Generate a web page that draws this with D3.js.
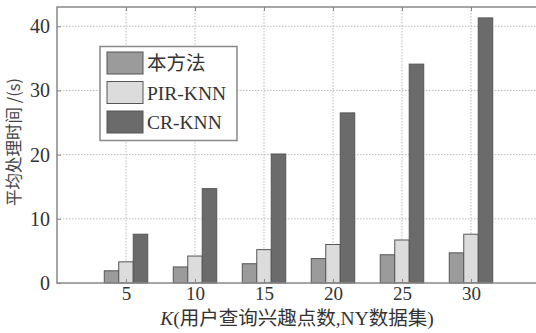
<!DOCTYPE html>
<html><head><meta charset="utf-8">
<script src="https://cdn.jsdelivr.net/npm/d3@7"></script>
<style>body{margin:0;background:#fff}svg{display:block}</style>
</head><body>
<script>
const categories = [5, 10, 15, 20, 25, 30];
const seriesNames = ["本方法", "PIR-KNN", "CR-KNN"];
const ours = [1.9, 2.5, 3.0, 3.8, 4.4, 4.7];
const pirKnn = [3.3, 4.2, 5.2, 6.0, 6.7, 7.6];
const crKnn = [7.6, 14.7, 20.1, 26.5, 34.1, 41.3];
const yTicks = [0, 10, 20, 30, 40];
const yLabel = "平均处理时间 /(s)";
const xLabelItalic = "K";
const xLabelRest = "(用户查询兴趣点数,NY数据集)";

const series = [ours, pirKnn, crKnn];
const colors = ["#9b9b9b", "#dcdcdc", "#6b6b6b"];

const W = 536, H = 333;
const m = {left: 57, top: 7, bottom: 283, right: 540};
const svg = d3.select("body").append("svg").attr("width", W).attr("height", H);

const x = d3.scaleLinear().domain([0, 35]).range([m.left, m.right]);
const y = d3.scaleLinear().domain([0, 43]).range([m.bottom, m.top]);
const barW = x(1.05) - x(0);

// grid
const grid = svg.append("g").attr("stroke", "#bbb").attr("stroke-dasharray", "1.5,1.5").attr("stroke-width", 1);
grid.selectAll("line.gy").data(yTicks.filter(d => d > 0)).join("line")
  .attr("x1", m.left).attr("x2", m.right).attr("y1", d => y(d)).attr("y2", d => y(d));
grid.selectAll("line.gx").data(categories).join("line")
  .attr("y1", m.top).attr("y2", m.bottom).attr("x1", d => x(d)).attr("x2", d => x(d));

// bars
series.forEach((vals, si) => {
  svg.append("g").selectAll("rect").data(vals).join("rect")
    .attr("x", (d, i) => x(categories[i]) + (si - 1.5) * barW)
    .attr("width", barW)
    .attr("y", d => y(d))
    .attr("height", d => y(0) - y(d))
    .attr("fill", colors[si])
    .attr("stroke", "#555").attr("stroke-width", 1);
});

// frame
svg.append("rect").attr("x", m.left).attr("y", m.top)
  .attr("width", m.right - m.left).attr("height", m.bottom - m.top)
  .attr("fill", "none").attr("stroke", "#888").attr("stroke-width", 1.5);

// axes
const yAxis = d3.axisLeft(y).tickValues(yTicks).tickSize(-4).tickPadding(7);
const gy = svg.append("g").attr("transform", `translate(${m.left},0)`).call(yAxis);
gy.select(".domain").remove();
gy.selectAll("line").attr("stroke", "#888");
gy.selectAll("text").attr("font-family", "Liberation Serif, serif").attr("font-size", 20).attr("fill", "#333");

const xAxis = d3.axisBottom(x).tickValues(categories).tickSize(-4).tickPadding(4);
const gx = svg.append("g").attr("transform", `translate(0,${m.bottom})`).call(xAxis);
gx.select(".domain").remove();
gx.selectAll("line").attr("stroke", "#888");
gx.selectAll("text").attr("font-family", "Liberation Serif, serif").attr("font-size", 19).attr("fill", "#333");

const xTop = d3.axisTop(x).tickValues(categories).tickSize(-4).tickFormat("");
const gxt = svg.append("g").attr("transform", `translate(0,${m.top})`).call(xTop);
gxt.select(".domain").remove();
gxt.selectAll("line").attr("stroke", "#888");

// axis labels
svg.append("text")
  .attr("transform", `translate(20,142) rotate(-90)`)
  .attr("text-anchor", "middle")
  .attr("font-family", "Noto Sans CJK SC, sans-serif").attr("font-size", 16.5).attr("fill", "#444")
  .text(yLabel);

const xl = svg.append("text").attr("x", 297).attr("y", 325).attr("text-anchor", "middle")
  .attr("font-family", "Liberation Serif, Noto Sans CJK SC, serif").attr("font-size", 19.5).attr("fill", "#333");
xl.append("tspan").attr("font-style", "italic").text(xLabelItalic);
xl.append("tspan").text(xLabelRest);

// legend
const lg = svg.append("g");
lg.append("rect").attr("x", 100).attr("y", 46.5).attr("width", 137).attr("height", 94)
  .attr("fill", "#fff").attr("stroke", "#888").attr("stroke-width", 1.5);
seriesNames.forEach((name, i) => {
  const yy = 52 + i * 29.5;
  lg.append("rect").attr("x", 107).attr("y", yy).attr("width", 36).attr("height", 22)
    .attr("fill", colors[i]).attr("stroke", "#555").attr("stroke-width", 1);
  lg.append("text").attr("x", 147).attr("y", yy + 18)
    .attr("font-family", "Liberation Serif, Noto Sans CJK SC, serif").attr("font-size", 19.5).attr("fill", "#333")
    .text(name);
});
</script>
</body></html>
